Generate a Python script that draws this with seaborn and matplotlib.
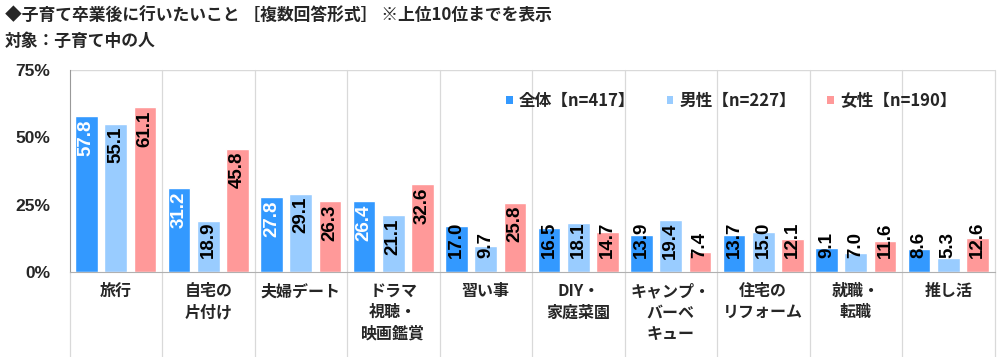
import pandas as pd
import seaborn as sns
import matplotlib.pyplot as plt
from matplotlib.patches import Patch
from matplotlib.transforms import blended_transform_factory

# categories and series
categories = ['旅行', '自宅の\n片付け', '夫婦デート', 'ドラマ\n視聴・\n映画鑑賞', '習い事',
              'DIY・\n家庭菜園', 'キャンプ・\nバーベ\nキュー', '住宅の\nリフォーム', '就職・\n転職', '推し活']
groups = ['全体【n=417】', '男性【n=227】', '女性【n=190】']
all_vals = [57.8, 31.2, 27.8, 26.4, 17.0, 16.5, 13.9, 13.7, 9.1, 8.6]
male_vals = [55.1, 18.9, 29.1, 21.1, 9.7, 18.1, 19.4, 15.0, 7.0, 5.3]
female_vals = [61.1, 45.8, 26.3, 32.6, 25.8, 14.7, 7.4, 12.1, 11.6, 12.6]
yticks = [0, 25, 50, 75]
colors = ['#3399FF', '#99CCFF', '#FF9999']

series = [all_vals, male_vals, female_vals]
df = pd.DataFrame({
    'category': categories * 3,
    'group': [g for g in groups for _ in categories],
    'value': all_vals + male_vals + female_vals,
})

sns.set_style('white')
plt.rcParams['font.family'] = ['Liberation Sans', 'Noto Sans CJK JP', 'DejaVu Sans']
plt.rcParams['font.weight'] = 'bold'
cjk = ['Noto Sans CJK JP', 'DejaVu Sans']

fig = plt.figure(figsize=(10, 3.57), dpi=100)
ax = fig.add_axes([0.0695, 0.238, 0.925, 0.566])

sns.barplot(data=df, x='category', y='value', hue='group', palette=colors,
            width=0.95, gap=0.23, legend=False, ax=ax, saturation=1)

ax.set_ylim(0, 75)
ax.set_xlim(-0.5, len(categories) - 0.5)
ax.set_yticks(yticks)
ax.set_yticklabels([f'{t}%' for t in yticks], fontsize=12.5, fontweight='bold')
ax.set_xticks(range(len(categories)))
ax.set_xticklabels(categories, fontsize=11.5, fontweight='bold', va='top',
                   linespacing=1.4, family=cjk)
ax.set_xlabel('')
ax.set_ylabel('')
ax.tick_params(axis='x', length=0, pad=8)
ax.tick_params(axis='y', direction='in', length=4, color='#999999', pad=14)

for s in ['top', 'right']:
    ax.spines[s].set_visible(False)
ax.spines['left'].set_color('#999999')
ax.spines['bottom'].set_color('#B0B0B0')
ax.axhline(75, color='#D9D9D9', lw=1, zorder=0)

# category separators, running down into the label area
tr = blended_transform_factory(ax.transData, ax.transAxes)
for b in range(1, len(categories) + 1):
    ax.plot([b - 0.5, b - 0.5], [1, -0.42], transform=tr, color='#D9D9D9',
            lw=0.9, clip_on=False, zorder=0)
ax.plot([-0.5, -0.5], [0, -0.42], transform=tr, color='#D9D9D9', lw=0.9,
        clip_on=False, zorder=0)

# value labels
label_len = 12.5
base = 5.2
for k, (cont, vals) in enumerate(zip(ax.containers, series)):
    for bar, v in zip(cont, vals):
        x = bar.get_x() + bar.get_width() / 2
        if v - 1.2 - label_len >= base:
            col = 'white' if k == 0 else 'black'
            ax.text(x, v - 1.2, f'{v:.1f}', rotation=90, ha='center', va='top',
                    fontsize=13.5, fontweight='bold', color=col)
        else:
            ax.text(x, base, f'{v:.1f}', rotation=90, ha='center', va='bottom',
                    fontsize=13.5, fontweight='bold', color='black')

handles = [Patch(facecolor=c, edgecolor='none') for c in colors]
ax.legend(handles, groups, ncol=3, loc='center right', bbox_to_anchor=(0.975, 0.847),
          frameon=False, handlelength=0.4, handleheight=0.4, handletextpad=0.35,
          columnspacing=1.9, prop={'family': cjk, 'weight': 'bold', 'size': 12})

fig.text(0.005, 0.955, '◆子育て卒業後に行いたいこと ［複数回答形式］ ※上位10位までを表示',
         fontsize=12.1, fontweight='bold', va='center', family=cjk)
fig.text(0.005, 0.885, '対象：子育て中の人', fontsize=12.1, fontweight='bold', va='center',
         family=cjk)

fig.savefig('out.png', dpi=100)
